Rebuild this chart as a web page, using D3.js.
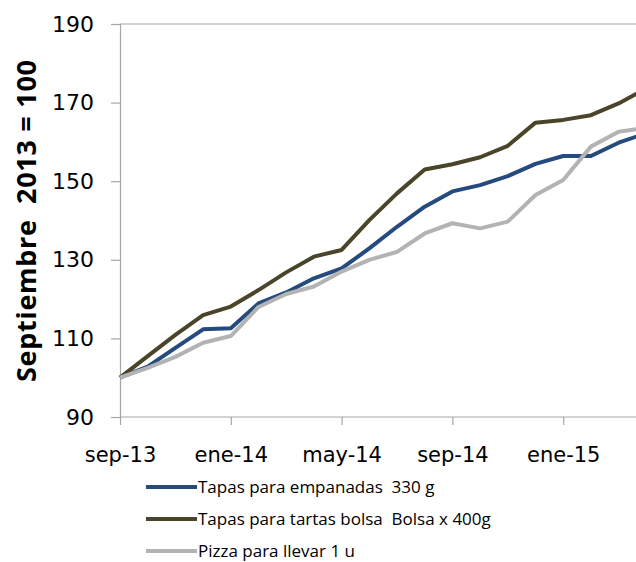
<!DOCTYPE html>
<html>
<head>
<meta charset="utf-8">
<script src="https://cdn.jsdelivr.net/npm/d3@7"></script>
<style>
  html, body { margin: 0; padding: 0; background: #fff; overflow: hidden; }
</style>
</head>
<body>
<div id="chart"></div>
<script>
// months from sep-13, index based
const months = ['sep-13', 'oct-13', 'nov-13', 'dic-13', 'ene-14', 'feb-14', 'mar-14', 'abr-14',
  'may-14', 'jun-14', 'jul-14', 'ago-14', 'sep-14', 'oct-14', 'nov-14', 'dic-14',
  'ene-15', 'feb-15', 'mar-15', 'abr-15']
const empanadas = [100, 102.8, 107.6, 112.3, 112.6, 118.9, 121.7, 125.3, 127.8, 132.9,
  138.4, 143.5, 147.4, 149, 151.3, 154.4, 156.4, 156.4, 159.8, 162.2]
const tartas = [100, 105.5, 110.9, 115.9, 118.1, 122.3, 126.8, 130.8, 132.5, 140.1,
  146.9, 153, 154.3, 156.1, 159, 164.9, 165.6, 166.8, 169.8, 173.6]
const pizza = [100, 102.5, 105.3, 108.9, 110.6, 118, 121.3, 123.2, 127, 130,
  132, 136.7, 139.3, 138, 139.7, 146.5, 150.3, 158.8, 162.6, 163.6]
const yTicks = [90, 110, 130, 150, 170, 190]
const xTickLabels = ['sep-13', 'ene-14', 'may-14', 'sep-14', 'ene-15']

const series = [
  { name: 'Tapas para empanadas  330 g', values: empanadas, color: '#254a7e' },
  { name: 'Tapas para tartas bolsa  Bolsa x 400g', values: tartas, color: '#4a4529' },
  { name: 'Pizza para llevar 1 u', values: pizza, color: '#b3b3b3' }
]

const W = 636, H = 562
const svg = d3.select('#chart').append('svg')
  .attr('width', W)
  .attr('height', H)
  .style('font-family', '"DejaVu Sans", sans-serif')

// month step ~27.7px, chart runs past the right edge
const x = d3.scaleLinear()
  .domain([0, months.length - 1])
  .range([120, 120 + 27.7 * (months.length - 1)])
const y = d3.scaleLinear()
  .domain([90, 190])
  .range([417, 24])

const axisColor = '#a6a6a6'

// top line at 190
svg.append('line')
  .attr('x1', x(0)).attr('x2', W)
  .attr('y1', y(190)).attr('y2', y(190))
  .attr('stroke', axisColor).attr('stroke-width', 1.2)

// y axis
const yAxis = svg.append('g')
  .attr('transform', `translate(${x(0)},0)`)
  .call(d3.axisLeft(y).tickValues(yTicks).tickSize(9).tickPadding(17))
yAxis.selectAll('path, line').attr('stroke', axisColor).attr('stroke-width', 1.2)
yAxis.selectAll('text')
  .style('font-size', '22px').style('font-family', '"DejaVu Sans", sans-serif')
  .attr('fill', '#000')

// x axis
const tickIdx = xTickLabels.map(l => months.indexOf(l))
const xAxis = svg.append('g')
  .attr('transform', `translate(0,${y(90)})`)
  .call(d3.axisBottom(x).tickValues(tickIdx).tickFormat(i => months[i]).tickSize(8).tickPadding(22))
xAxis.select('path').attr('d', `M${x(0)},0H${W}`)
xAxis.selectAll('path, line').attr('stroke', axisColor).attr('stroke-width', 1.2)
xAxis.selectAll('text')
  .style('font-size', '21px').style('font-family', '"DejaVu Sans", sans-serif')
  .attr('fill', '#000')

// y title
svg.append('text')
  .attr('transform', 'translate(36,221) rotate(-90)')
  .attr('text-anchor', 'middle')
  .style('font-family', '"Open Sans", sans-serif')
  .style('font-weight', 'bold')
  .style('font-size', '27px')
  .style('white-space', 'pre')
  .attr('textLength', 322)
  .attr('lengthAdjust', 'spacing')
  .text('Septiembre  2013 = 100')

// lines
const line = d3.line()
  .x((d, i) => x(i))
  .y(d => y(d))

svg.selectAll('.series')
  .data(series)
  .enter()
  .append('path')
    .attr('class', 'series')
    .attr('d', d => line(d.values))
    .attr('fill', 'none')
    .attr('stroke', d => d.color)
    .attr('stroke-width', 4)
    .attr('stroke-linejoin', 'round')

// legend
const legend = svg.append('g')
  .selectAll('g')
  .data(series)
  .enter()
  .append('g')
    .attr('transform', (d, i) => `translate(146,${487 + i * 32})`)
legend.append('line')
  .attr('x1', 0).attr('x2', 51)
  .attr('stroke', d => d.color)
  .attr('stroke-width', 4)
legend.append('text')
  .attr('x', 52).attr('dy', '0.33em')
  .style('font-family', '"Open Sans", sans-serif')
  .style('font-size', '17px')
  .style('white-space', 'pre')
  .text(d => d.name)
</script>
</body>
</html>
